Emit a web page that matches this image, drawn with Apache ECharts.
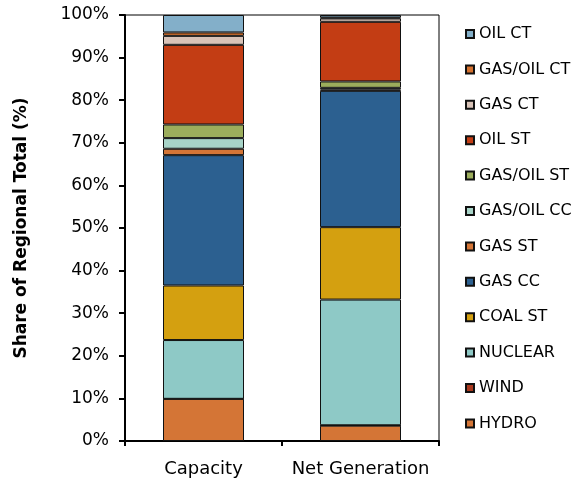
<!DOCTYPE html>
<html>
<head>
<meta charset="utf-8">
<script src="https://cdn.jsdelivr.net/npm/echarts@6/dist/echarts.min.js"></script>
<style>html,body{margin:0;padding:0;background:#fff}#c{width:578px;height:483px}</style>
</head>
<body>
<div id="c"></div>
<script>
const categories = ['Capacity', 'Net Generation'];
const seriesNames = ['HYDRO', 'WIND', 'NUCLEAR', 'COAL ST', 'GAS CC', 'GAS ST', 'GAS/OIL CC', 'GAS/OIL ST', 'OIL ST', 'GAS CT', 'GAS/OIL CT', 'OIL CT'];
const hydro = [9.9, 3.6];
const wind = [0, 0.1];
const nuclear = [13.8, 29.5];
const coalSt = [12.8, 17.0];
const gasCc = [30.6, 32.0];
const gasSt = [1.5, 0.3];
const gasOilCc = [2.5, 0.4];
const gasOilSt = [3.2, 1.5];
const oilSt = [18.7, 14.0];
const gasCt = [2.1, 0.8];
const gasOilCt = [0.8, 0.2];
const oilCt = [4.1, 0.6];
const yTicks = [0, 10, 20, 30, 40, 50, 60, 70, 80, 90, 100];

const values = [hydro, wind, nuclear, coalSt, gasCc, gasSt, gasOilCc, gasOilSt, oilSt, gasCt, gasOilCt, oilCt];
const colors = ['#D47536', '#A9391F', '#8EC9C6', '#D4A010', '#2C6090', '#D47536', '#A8D4C8', '#9CAD5C', '#C33D14', '#D9C3B8', '#D4712F', '#83AFC9'];

const chart = echarts.init(document.getElementById('c'), null, {renderer: 'canvas'});
const font = 'DejaVu Sans';
chart.setOption({
  animation: false,
  backgroundColor: '#fff',
  grid: {left: 125, right: 139, top: 15, bottom: 42, show: true, borderColor: '#000', borderWidth: 1, backgroundColor: 'transparent'},
  legend: {
    orient: 'vertical', left: 460, top: 21,
    data: seriesNames.slice().reverse(),
    itemWidth: 8, itemHeight: 8, itemGap: 19.4,
    icon: 'rect',
    textStyle: {fontFamily: font, fontSize: 16, color: '#000'}
  },
  xAxis: {
    type: 'category', data: categories,
    axisLine: {lineStyle: {color: '#000', width: 2}},
    axisTick: {show: true, length: 5, lineStyle: {color: '#000', width: 2}},
    axisLabel: {fontFamily: font, fontSize: 18, color: '#000', margin: 19, interval: 0}
  },
  yAxis: {
    type: 'value', min: yTicks[0], max: yTicks[yTicks.length - 1], interval: 10,
    name: 'Share of Regional Total (%)', nameLocation: 'middle', nameGap: 95,
    nameTextStyle: {fontFamily: font, fontSize: 17, fontWeight: 'bold', color: '#000'},
    axisLine: {show: true, lineStyle: {color: '#000', width: 2}},
    axisTick: {show: true, length: 6, lineStyle: {color: '#000', width: 2}},
    splitLine: {show: false},
    axisLabel: {fontFamily: font, fontSize: 17, color: '#000', margin: 16, formatter: '{value}%'}
  },
  series: seriesNames.map((n, i) => ({
    name: n, type: 'bar', stack: 'total', barWidth: 81,
    data: values[i],
    itemStyle: {color: colors[i], borderColor: '#111', borderWidth: 1}
  }))
});
</script>
</body>
</html>
